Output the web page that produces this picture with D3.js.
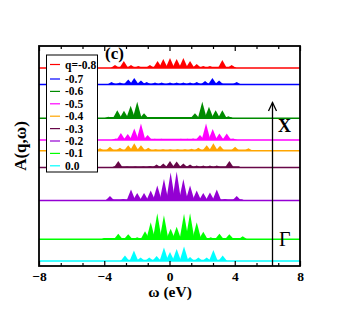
<!DOCTYPE html>
<html lang="en">
<head>
  <meta charset="UTF-8">
  <title>A(q,w) spectra</title>
  <script src="https://cdnjs.cloudflare.com/ajax/libs/d3/7.8.5/d3.min.js"></script>
  <style>
  body {
    margin: 0;
    background: #fff;
  }
  text {
    font-family: "Liberation Serif", "Times New Roman", serif;
  }
  </style>
</head>
<body>
<svg width="338" height="314"></svg>
<script>
// q values, from top curve to bottom curve
var qLabels = ["q=-0.8", "-0.7", "-0.6", "-0.5", "-0.4", "-0.3", "-0.2", "-0.1", "0.0"];
var colors  = ["#ff0000", "#0000ff", "#008b00", "#ff00ff", "#ffa500", "#670748", "#9400d3", "#00ff00", "#00ffff"];
// vertical offset of each curve (same units as A)
var offsets = [19.8, 18.14, 14.77, 12.6, 11.53, 9.85, 6.55, 2.68, 0.5];
// band edges (eV) where the spectrum is non zero
var bandLo = [-3.55, -3.77, -3.9, -3.4, -4.4, -3.55, -3.96, -4.16, -3.04];
var bandHi = [4.1, 4.3, 3.9, 4.0, 5.0, 4.4, 4.6, 4.7, 3.5];

// peaks: [omega (eV), height]
var peaksM08 = [[-3.34,0.3],[-2.8,0.7],[-2.36,0.3],[-1.91,0.2],[-1.2,0.3],[-0.73,0.7],[-0.38,0.9],[0.03,1.0],[0.44,0.9],[0.85,1.0],[1.26,0.7],[1.67,0.4],[2.07,0.2],[2.48,0.2],[3.24,0.8],[3.81,0.3]];
var peaksM07 = [[-3.55,0.25],[-3.04,0.2],[-2.53,0.5],[-2.16,0.65],[-1.75,0.4],[-1.4,0.25],[-0.89,0.2],[-0.48,0.2],[0.03,0.2],[0.44,0.2],[0.85,0.2],[1.26,0.2],[1.67,0.25],[2.18,0.35],[2.63,0.65],[3.04,0.4],[4.12,0.25]];
var peaksM06 = [[-3.75,0.15],[-3.2,0.8],[-2.79,0.75],[-2.38,1.25],[-1.98,1.65],[-1.56,0.5],[-0.99,0.12],[-0.58,0.12],[-0.17,0.12],[0.23,0.12],[0.64,0.12],[1.05,0.12],[1.56,0.5],[2.01,1.65],[2.42,1.15],[2.83,0.8],[3.24,0.8],[3.61,0.2]];
var peaksM05 = [[-3.3,0.15],[-2.98,0.7],[-2.56,0.6],[-2.16,1.15],[-1.75,1.65],[-1.34,0.5],[-0.9,0.12],[-0.5,0.12],[-0.1,0.1],[0.3,0.1],[0.7,0.12],[1.1,0.12],[1.45,0.15],[1.87,0.5],[2.24,1.65],[2.65,1.1],[3.06,0.65],[3.51,0.65],[3.9,0.15]];
var peaksM04 = [[-4.26,0.25],[-3.65,0.4],[-3.04,0.3],[-2.53,0.55],[-2.16,0.75],[-1.75,0.55],[-1.3,0.3],[-0.85,0.15],[-0.4,0.15],[0.05,0.15],[0.5,0.15],[0.95,0.15],[1.35,0.2],[1.77,0.3],[2.28,0.55],[2.69,0.75],[3.1,0.5],[4.02,0.4],[4.84,0.25]];
var peaksM03 = [[-3.14,0.65],[-2.6,0.1],[-2.1,0.1],[-1.6,0.1],[-1.2,0.15],[-0.79,0.3],[-0.38,0.4],[0.03,0.65],[0.44,0.6],[0.85,0.4],[1.26,0.3],[1.67,0.2],[2.07,0.2],[2.48,0.2],[2.9,0.2],[3.67,0.65]];
var peaksM02 = [[-3.65,0.45],[-2.83,0.15],[-2.36,1.1],[-1.98,0.75],[-1.56,0.75],[-1.15,1.0],[-0.75,1.5],[-0.34,2.15],[0.07,2.8],[0.44,2.9],[0.85,2.15],[1.26,1.5],[1.67,1.0],[2.07,0.75],[2.48,0.8],[2.9,1.1],[3.4,0.15],[4.12,0.45]];
var peaksM01 = [[-3.96,0.1],[-3.14,0.55],[-2.53,0.5],[-1.98,0.2],[-1.5,0.8],[-1.15,1.7],[-0.75,2.6],[-0.34,2.4],[0.07,1.05],[0.44,1.25],[0.89,2.55],[1.26,2.6],[1.67,1.7],[2.07,0.75],[2.53,0.2],[3.06,0.55],[3.67,0.5],[4.49,0.3]];
var peaksQ00 = [[-2.73,0.55],[-2.18,1.05],[-1.77,0.35],[-1.24,0.35],[-0.79,0.5],[-0.34,1.35],[0.03,0.9],[0.44,1.2],[0.89,1.45],[1.26,0.4],[1.77,0.35],[2.28,0.35],[2.69,1.1],[3.26,0.55]];
var allPeaks = [peaksM08, peaksM07, peaksM06, peaksM05, peaksM04, peaksM03, peaksM02, peaksM01, peaksQ00];

var xTicks = [-8, -4, 0, 4, 8];

var svg = d3.select("svg"),
    plotL = 39, plotR = 300, plotT = 46, plotB = 266;

var x = d3.scaleLinear().domain([-8, 8]).range([plotL, plotR]);
var y = d3.scaleLinear().domain([0, 22]).range([plotB, plotT]);

var halfW = 0.27, pedestal = 0.12;

var plot = svg.append("g");

allPeaks.forEach(function(peaks, i) {
  var off = offsets[i];
  var area = d3.area()
      .x(function(d) { return x(d[0]); })
      .y0(y(off))
      .y1(function(d) { return y(off + d[1]); });
  // low continuum under the peaks
  plot.append("path")
      .datum([[bandLo[i], 0], [bandLo[i] + 0.15, pedestal], [bandHi[i] - 0.15, pedestal], [bandHi[i], 0]])
      .attr("d", area)
      .attr("fill", colors[i]);
  plot.selectAll(null)
      .data(peaks)
      .enter().append("path")
      .attr("d", function(p) { return area([[p[0] - halfW, 0], [p[0], p[1]], [p[0] + halfW, 0]]); })
      .attr("fill", colors[i]);
  plot.append("line")
      .attr("x1", x(-8)).attr("x2", x(8))
      .attr("y1", y(off)).attr("y2", y(off))
      .attr("stroke", colors[i])
      .attr("stroke-width", 1.5);
});

// axes, ticks pointing inward
var minor = d3.range(-8, 8.001, 4 / 3).filter(function(v) { return Math.abs(v / 4 - Math.round(v / 4)) > 0.01; });

function styleAxis(g) {
  g.select(".domain").remove();
  g.selectAll(".tick line").attr("stroke", "#000").attr("stroke-width", 1.2);
}
svg.append("g")
    .attr("transform", "translate(0," + plotB + ")")
    .call(d3.axisBottom(x).tickValues(xTicks).tickSize(-5).tickPadding(5).tickFormat(d3.format("d")))
    .call(styleAxis)
    .selectAll("text")
    .attr("font-size", "13.5px").attr("font-weight", "bold").attr("fill", "#000")
    .style("font-family", "'Liberation Serif', serif");
svg.append("g")
    .attr("transform", "translate(0," + plotB + ")")
    .call(d3.axisBottom(x).tickValues(minor).tickSize(-3).tickFormat(""))
    .call(styleAxis);
svg.append("g")
    .attr("transform", "translate(0," + plotT + ")")
    .call(d3.axisTop(x).tickValues(xTicks).tickSize(-5).tickFormat(""))
    .call(styleAxis);
svg.append("g")
    .attr("transform", "translate(0," + plotT + ")")
    .call(d3.axisTop(x).tickValues(minor).tickSize(-3).tickFormat(""))
    .call(styleAxis);

// frame
svg.append("rect")
    .attr("x", plotL).attr("y", plotT)
    .attr("width", plotR - plotL).attr("height", plotB - plotT)
    .attr("fill", "none").attr("stroke", "#000").attr("stroke-width", 1.8);

// axis titles
svg.append("text")
    .attr("x", 170).attr("y", 297)
    .attr("text-anchor", "middle")
    .attr("font-size", "15.5px").attr("font-weight", "bold")
    .text("\u03c9 (eV)");
svg.append("text")
    .attr("transform", "translate(26,146) rotate(-90)")
    .attr("text-anchor", "middle")
    .attr("font-size", "17px").attr("font-weight", "bold")
    .text("A(q,\u03c9)");

// panel label
svg.append("text")
    .attr("x", 105).attr("y", 59)
    .attr("font-size", "17px").attr("font-weight", "bold")
    .text("(c)");

// legend
var legend = svg.append("g");
legend.append("rect")
    .attr("x", 46.5).attr("y", 55).attr("width", 51).attr("height", 117)
    .attr("fill", "#fff").attr("stroke", "#000").attr("stroke-width", 1);
qLabels.forEach(function(lab, i) {
  var ly = i === 0 ? 64.5 : 79 + (i - 1) * 12.4;
  legend.append("line")
      .attr("x1", 50).attr("x2", 60).attr("y1", ly).attr("y2", ly)
      .attr("stroke", colors[i]).attr("stroke-width", 1.2);
  legend.append("text")
      .attr("x", 65).attr("y", ly + 4)
      .attr("font-size", "11.5px").attr("font-weight", "bold")
      .text(lab);
});

// q path arrow from Gamma to X
var ax = 272.5;
svg.append("line")
    .attr("x1", ax).attr("x2", ax).attr("y1", 102.5).attr("y2", plotB)
    .attr("stroke", "#000").attr("stroke-width", 1.3);
svg.append("path")
    .attr("d", "M" + (ax - 4) + "," + 111 + "L" + ax + "," + 102.5 + "L" + (ax + 4) + "," + 111)
    .attr("fill", "none").attr("stroke", "#000").attr("stroke-width", 1.3);
svg.append("text")
    .attr("x", 278).attr("y", 131.5)
    .attr("font-size", "18px").attr("font-weight", "bold")
    .text("X");
svg.append("text")
    .attr("x", 279).attr("y", 246)
    .attr("font-size", "20px")
    .text("\u0393");
</script>
</body>
</html>
